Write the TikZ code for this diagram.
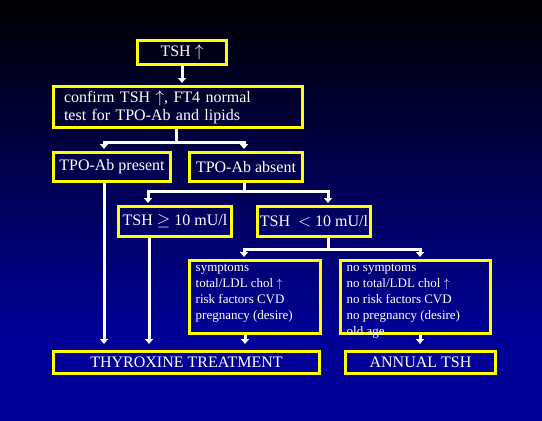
\documentclass[tikz,border=0pt]{standalone}
\usepackage{fontspec}
\setmainfont{Liberation Serif}
\usetikzlibrary{arrows.meta}
\definecolor{bgblue}{RGB}{0,0,150}
\definecolor{boxyellow}{RGB}{255,255,0}

\begin{document}
\begin{tikzpicture}[x=1pt,y=-1pt,
    box/.style={draw=boxyellow, line width=3pt, text=white, inner sep=0pt, font=\fontsize{16}{18}\selectfont},
    list/.style={text=white, inner sep=0pt, align=left, anchor=north west, font=\fontsize{13}{16}\selectfont},
    line/.style={draw=white, line width=3pt},
    arr/.style={line, -{Triangle[width=8pt,length=5pt]}, shorten >=2pt}]
  \useasboundingbox (0,0) rectangle (542,421);
  \shade[top color=black, bottom color=bgblue] (0,0) rectangle (542,330);
  \fill[bgblue] (0,329.5) rectangle (542,421);

  \node[box, minimum width=89pt, minimum height=24pt] (tsh) at (182,52.5) {TSH $\uparrow$};
  \node[box, text width=228pt, inner xsep=10.5pt, minimum height=41pt, align=left] (confirm) at (178,107)
    {\rule{0pt}{13pt}confirm TSH $\uparrow$, FT4 normal\\test for TPO-Ab and lipids};
  \node[box, minimum width=117pt, minimum height=29pt] (present) at (112,167) {TPO-Ab present};
  \node[box, minimum width=113pt, minimum height=29pt] (absent) at (246,167) {TPO-Ab absent};
  \node[box, minimum width=113pt, minimum height=30pt] (ge10) at (175,221.5) {TSH $\geq$ 10 mU/l};
  \node[box, minimum width=113pt, minimum height=30pt] (lt10) at (314,221.5) {TSH \ $<$ 10 mU/l};
  \node[box, minimum width=131pt, minimum height=73pt] (sympt) at (255,297) {};
  \node[box, minimum width=150pt, minimum height=73pt] (nosympt) at (415.5,297) {};
  \node[box, minimum width=266pt, minimum height=22pt] (thyrox) at (186.5,362.5) {THYROXINE TREATMENT};
  \node[box, minimum width=150pt, minimum height=22pt] (annual) at (420.5,362.5) {ANNUAL TSH};

  \node[list] (symptlist) at ([xshift=7.5pt,yshift=-4.5pt]sympt.north west)
    {symptoms\\total/LDL chol $\uparrow$\\risk factors CVD\\pregnancy (desire)};
  \node[list] (nosymptlist) at ([xshift=7.5pt,yshift=-4.5pt]nosympt.north west)
    {no symptoms\\no total/LDL chol $\uparrow$\\no risk factors CVD\\no pregnancy (desire)\\old age};

  \coordinate (j1) at (176,142);
  \coordinate (j2) at (244,191);
  \coordinate (j3) at (328,249);

  \draw[arr] (tsh.south) -- (tsh.south |- confirm.north);

  \draw[line] (confirm.south -| j1) -- (j1);
  \draw[arr] (j1) -| ([xshift=-8pt]present.north);
  \draw[arr] (j1) -| ([xshift=-2pt]absent.north);

  \draw[line] (absent.south -| j2) -- (j2);
  \draw[arr] (j2) -| ([xshift=-27pt]ge10.north);
  \draw[arr] (j2) -| ([xshift=14pt]lt10.north);

  \draw[line] (lt10.south -| j3) -- (j3);
  \draw[arr] (j3) -| ([xshift=-11pt]sympt.north);
  \draw[arr] (j3) -| ([xshift=4.5pt]nosympt.north);

  \draw[arr, shorten >=6pt] ([xshift=-8pt]present.south) -- ([xshift=-8pt]present.south |- thyrox.north);
  \draw[arr, shorten >=6pt] ([xshift=-26pt]ge10.south) -- ([xshift=-26pt]ge10.south |- thyrox.north);
  \draw[arr, shorten >=6pt] ([xshift=-10pt]sympt.south) -- ([xshift=-10pt]sympt.south |- thyrox.north);
  \draw[arr, shorten >=6pt] ([xshift=4.5pt]nosympt.south) -- ([xshift=4.5pt]nosympt.south |- annual.north);
\end{tikzpicture}
\end{document}
